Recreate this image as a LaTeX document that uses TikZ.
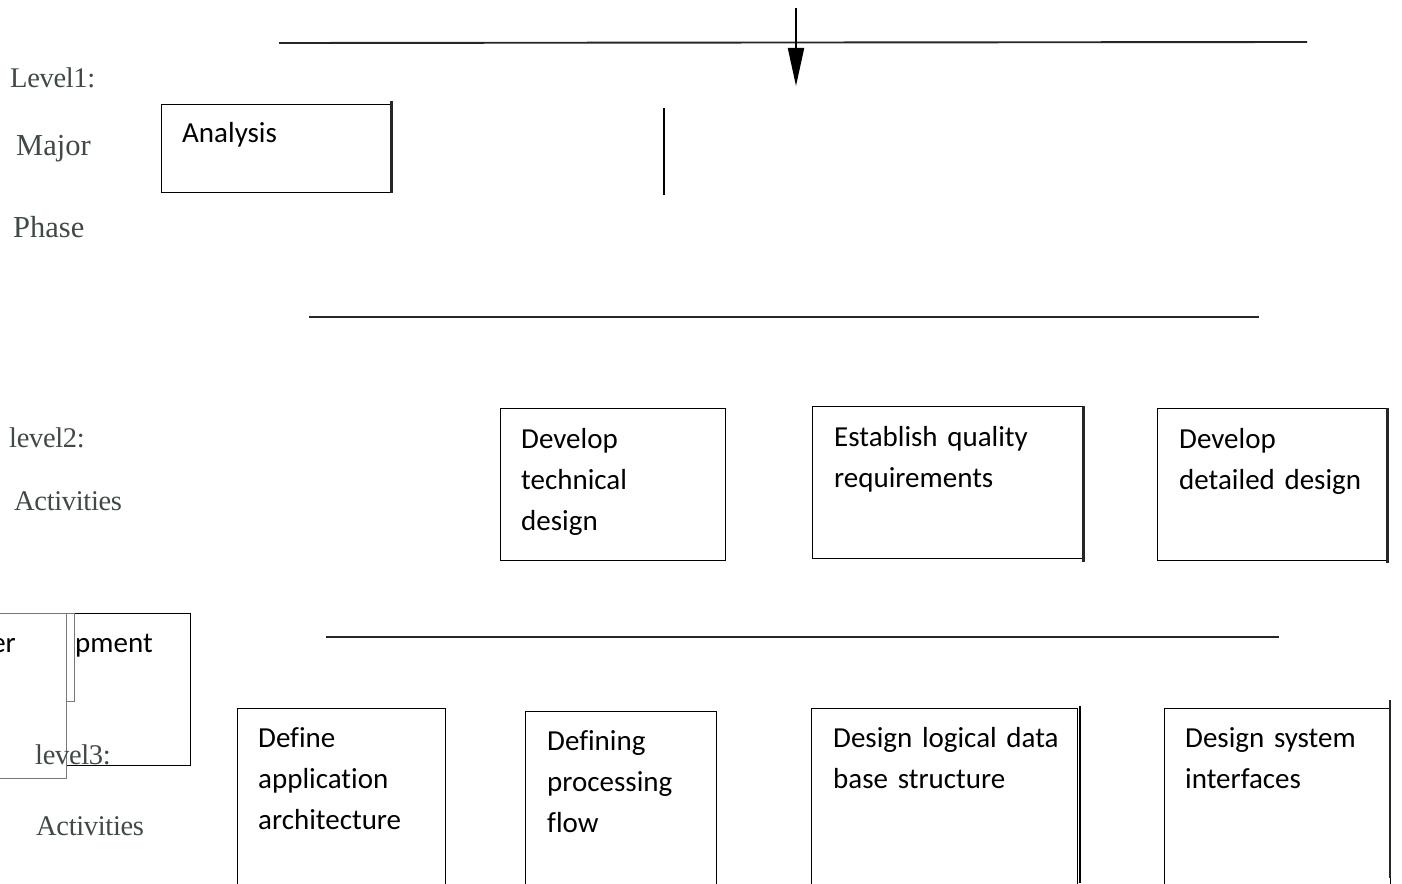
\documentclass[tikz,border=0pt]{standalone}
\usepackage{fontspec}
\setmainfont{Liberation Serif}
\newfontfamily\boxfont[Ligatures=NoCommon]{Carlito}
\usetikzlibrary{arrows.meta,calc}
\definecolor{labelgray}{RGB}{64,72,72}
\definecolor{framegray}{RGB}{120,120,120}
\begin{document}
\begin{tikzpicture}[x=1pt,y=-1pt,
  box/.style={draw=black,line width=1.4pt,inner sep=0pt,anchor=north west,fill=white},
  graybox/.style={draw=framegray,line width=1.2pt,inner sep=0pt,anchor=north west,fill=white},
  boxtext/.style={font=\boxfont\fontsize{29}{41}\selectfont,inner sep=0pt,anchor=base west,
    text width=260pt,align=left},
  level/.style={font=\addfontfeature{LetterSpace=-1.2}\fontsize{28.5}{30}\selectfont,text=labelgray,inner sep=0pt,anchor=base west},
  levelwide/.style={font=\fontsize{30.5}{32}\selectfont,text=labelgray,inner sep=0pt,anchor=base west},
  rule/.style={line width=1.9pt,draw=black!85},
  heavy/.style={line width=2.6pt,draw=black!85}]
\useasboundingbox (0,0) rectangle (1402,883);
\clip (0,0) rectangle (1402,883);

% separating rules
\coordinate (r1a) at (279,43);  \coordinate (r1b) at (1307,42);
\coordinate (r2a) at (309,317); \coordinate (r2b) at (1259,317);
\coordinate (r3a) at (326,637); \coordinate (r3b) at (1279,637);
\draw[rule] (r1a) -- (r1b);
\draw[rule] (r2a) -- (r2b);
\draw[rule] (r3a) -- (r3b);

% entry arrow
\coordinate (inTop) at (796,8);
\coordinate (inTip) at (796,86);
\draw[line width=2pt,-{Triangle[length=38pt,width=16pt]}] (inTop) -- (inTip);

% level labels
\node[level] (l1a) at (10,88)  {Level1:};
\node[levelwide] (l1b) at (16,155) {Major};
\node[levelwide] (l1c) at (13,237) {Phase};
\node[level] (l2a) at (9,447)  {level2:};
\node[level] (l2b) at (14,510) {Activities};

% level 1
\node[box,minimum width=229pt,minimum height=88pt] (analysis) at (161,104) {};
\draw[heavy] ($(analysis.north east)+(0,-3)$) -- (analysis.south east);
\node[boxtext] (analysisT) at (182,142) {Analysis};
\coordinate (divTop) at (664,108); \coordinate (divBot) at (664,195);
\draw[line width=2pt] (divTop) -- (divBot);

% level 2
\node[box,minimum width=225pt,minimum height=152pt] (techdes) at (500,408) {};
\node[boxtext] at (521,448) {Develop\\technical\\design};
\node[box,minimum width=270pt,minimum height=152pt] (quality) at (812,406) {};
\draw[heavy] (quality.north east) -- ($(quality.south east)+(0,3)$);
\node[boxtext] at (834,446) {Establish quality\\requirements};
\node[box,minimum width=229pt,minimum height=152pt] (detdes) at (1157,408) {};
\draw[heavy] (detdes.north east) -- ($(detdes.south east)+(0,2)$);
\node[boxtext] at (1179,448) {Develop\\detailed design};

% overlapping frames at the left
\node[box,minimum width=124pt,minimum height=152pt] (devframe) at (66,613) {};
\node[boxtext] at (75,652) {pment};
\node[graybox,minimum width=126pt,minimum height=165pt] (leftframe) at (-60,613) {};
\node[graybox,minimum width=8pt,minimum height=88pt,fill=none] (slim) at (66,613) {};
\node[boxtext,anchor=base east,text width=] at (16,652) {er};
\node[level] (l3a) at (35,764) {level3:};
\node[level] (l3b) at (36,835) {Activities};

% level 3
\node[box,minimum width=208pt,minimum height=200pt] (apparch) at (237,708) {};
\node[boxtext] at (258,747) {Define\\application\\architecture};
\node[box,minimum width=191pt,minimum height=200pt] (procflow) at (525,711) {};
\node[boxtext] at (547,750) {Defining\\processing\\flow};
\node[box,minimum width=266pt,minimum height=200pt] (logdb) at (811,708) {};
\coordinate (dbEdgeTop) at (1080,706); \coordinate (dbEdgeBot) at (1080,883);
\draw[line width=1.4pt] (dbEdgeTop) -- (dbEdgeBot);
\node[boxtext] at (833,747) {Design logical data\\base structure};
\node[box,minimum width=226pt,minimum height=200pt] (sysint) at (1164,708) {};
\coordinate (siEdgeTop) at (1390,700); \coordinate (siEdgeBot) at (1390,878);
\draw[heavy] (siEdgeTop) -- (siEdgeBot);
\node[boxtext] at (1185,747) {Design system\\interfaces};
\end{tikzpicture}
\end{document}
